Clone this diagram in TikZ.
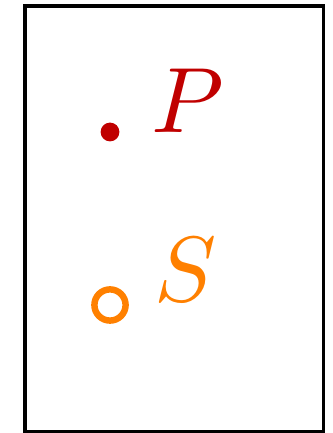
\RequirePackage{fix-cm}
\documentclass[tikz,border=0pt]{standalone}
\DeclareFontShape{OML}{cmm}{m}{it}{<->cmmi10}{}
\definecolor{pointred}{HTML}{C00000}
\definecolor{setorange}{HTML}{FF8000}
\usepackage{tikz}
\usetikzlibrary{positioning}

\begin{document}
\begin{tikzpicture}[
    frame/.style={draw=black, line width=2.4pt},
    fulldot/.style={circle, fill=pointred, inner sep=0pt, minimum size=0.47cm},
    opendot/.style={circle, draw=setorange, line width=4.6pt, inner sep=0pt, minimum size=0.78cm},
    lbl/.style={anchor=base west, inner sep=0pt, font=\fontsize{66}{79}\selectfont}
  ]
    \useasboundingbox (0,0) rectangle (8.325,10.825);
    \draw[frame] (0.625,0.0375) rectangle (8.0875,10.675);
    % point and its label
    \node[fulldot] (pdot) at (2.75,7.525) {};
    \node[lbl, text=pointred] (plabel) at (3.78,7.5) {$P$};
    % set and its label
    \node[opendot] (sdot) at (2.75,3.2) {};
    \node[lbl, text=setorange] (slabel) at (3.85,3.28) {$S$};
  \end{tikzpicture}
\end{document}
